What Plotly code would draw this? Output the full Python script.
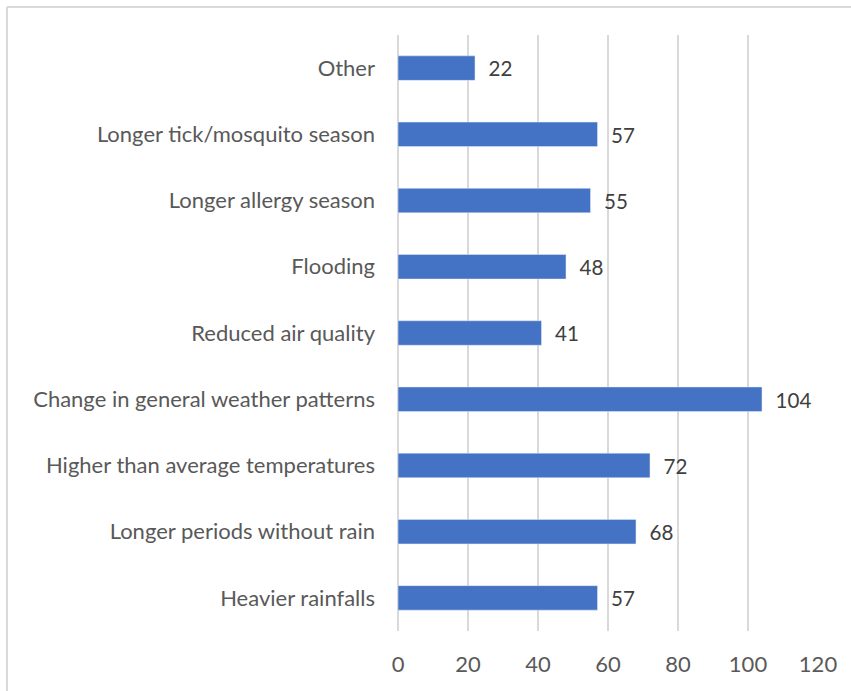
import plotly.graph_objects as go

categories = ["Heavier rainfalls", "Longer periods without rain",
              "Higher than average temperatures", "Change in general weather patterns",
              "Reduced air quality", "Flooding", "Longer allergy season",
              "Longer tick/mosquito season", "Other"]
counts = [57, 68, 72, 104, 41, 48, 55, 57, 22]
x_ticks = [0, 20, 40, 60, 80, 100, 120]

font = "Lato, Open Sans, sans-serif"

fig = go.Figure(go.Bar(
    x=counts, y=categories, orientation="h",
    marker_color="#4472C4", width=0.37,
    text=[f"  {v}" for v in counts], textposition="outside",
    textfont=dict(size=21, color="#404040", family=font),
    cliponaxis=False,
))

fig.update_layout(
    width=851, height=691,
    margin=dict(l=398, r=33, t=35, b=60),
    paper_bgcolor="white", plot_bgcolor="white",
    showlegend=False,
    font=dict(family=font, size=22, color="#595959"),
    xaxis=dict(range=[0, 120], tickvals=x_ticks, showgrid=True,
               gridcolor="#d9d9d9", gridwidth=1.5, zeroline=True,
               zerolinecolor="#d9d9d9", zerolinewidth=1.5,
               ticklabelstandoff=18, showline=False),
    yaxis=dict(categoryorder="array", categoryarray=categories,
               range=[-0.5, 8.5], showgrid=False, zeroline=False,
               ticklabelstandoff=22, showline=False),
    shapes=[
        dict(type="line", xref="paper", yref="paper",
             x0=-0.931, x1=-0.931, y0=-0.2, y1=1.047,
             line=dict(color="#d9d9d9", width=2)),
        dict(type="line", xref="paper", yref="paper",
             x0=-0.931, x1=1.2, y0=1.047, y1=1.047,
             line=dict(color="#d9d9d9", width=2)),
    ],
)

fig.write_html("out.html", config={"displayModeBar": False},
               post_script="document.body.style.margin='0';")
